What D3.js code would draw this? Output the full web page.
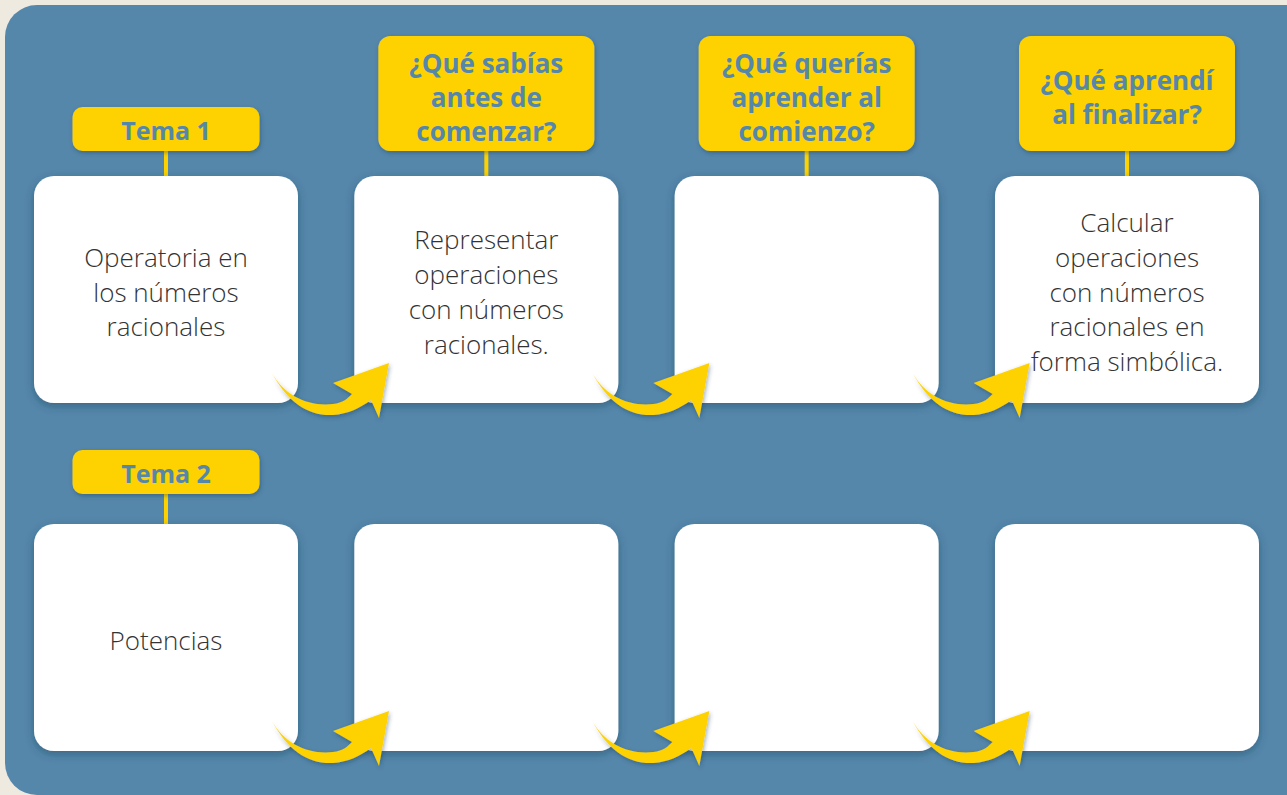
<!DOCTYPE html>
<html><head><meta charset="utf-8">
<script src="https://cdn.jsdelivr.net/npm/d3@7"></script>
<style>html,body{margin:0;padding:0;background:#EEEAE0;overflow:hidden}</style>
</head><body>
<script>
// ---- data ----
const topics = ["Tema 1", "Tema 2"];
const headers = [null, ["¿Qué sabías","antes de","comenzar?"], ["¿Qué querías","aprender al","comienzo?"], ["¿Qué aprendí","al finalizar?"]];
const row1Texts = [["Operatoria en","los números","racionales"], ["Representar","operaciones","con números","racionales."], [], ["Calcular","operaciones","con números","racionales en","forma simbólica."]];
const row2Texts = [["Potencias"], [], [], []];
const rowsText = [row1Texts, row2Texts];

const W = 1287, H = 795;
const blue = "#5587AA", yellow = "#FDD200", textDark = "#333333";

const svg = d3.select("body").append("svg").attr("width", W).attr("height", H);
const defs = svg.append("defs");
const f = defs.append("filter").attr("id","sh").attr("x","-20%").attr("y","-20%").attr("width","140%").attr("height","150%");
f.append("feDropShadow").attr("dx",0).attr("dy",3).attr("stdDeviation",4).attr("flood-color","#1d3a52").attr("flood-opacity",0.45);
const f2 = defs.append("filter").attr("id","sh2").attr("x","-20%").attr("y","-20%").attr("width","140%").attr("height","150%");
f2.append("feDropShadow").attr("dx",1).attr("dy",2).attr("stdDeviation",2).attr("flood-color","#1d3a52").attr("flood-opacity",0.4);

// panel
svg.append("rect").attr("x",5).attr("y",5).attr("width",1330).attr("height",790).attr("rx",32).attr("fill",blue);

const x = d3.scaleBand().domain(d3.range(4)).range([34,1259]).paddingInner(56.33/320.33);
const y = d3.scaleBand().domain(d3.range(2)).range([176,751]).paddingInner(121/348);
const cw = x.bandwidth(), ch = y.bandwidth();
const lh = 34.7;
const topicGap = [69, 74];

const font = "'Open Sans', sans-serif";

// header labels
headers.forEach((h,i)=>{
  if(!h) return;
  const cx = x(i)+cw/2, top = y(0)-140, hh = 115, wdt = 216;
  svg.append("rect").attr("x",cx-2).attr("y",top+hh-2).attr("width",4).attr("height",y(0)-top-hh+4).attr("fill",yellow);
  svg.append("rect").attr("x",cx-wdt/2).attr("y",top).attr("width",wdt).attr("height",hh).attr("rx",12).attr("fill",yellow).attr("filter","url(#sh2)");
  const cy = top+hh/2+3;
  h.forEach((t,k)=>{
    svg.append("text").attr("x",cx).attr("y",cy+(k-(h.length-1)/2)*34).attr("text-anchor","middle").attr("dominant-baseline","central")
      .attr("font-family",font).attr("font-weight",700).attr("font-size",26).attr("fill",blue).text(t);
  });
});

// topic labels
topics.forEach((t,r)=>{
  const cx = x(0)+cw/2, top = y(r)-topicGap[r], hh = 44, wdt = 187;
  svg.append("rect").attr("x",cx-2).attr("y",top+hh-2).attr("width",4).attr("height",y(r)-top-hh+4).attr("fill",yellow);
  svg.append("rect").attr("x",cx-wdt/2).attr("y",top).attr("width",wdt).attr("height",hh).attr("rx",10).attr("fill",yellow).attr("filter","url(#sh2)");
  svg.append("text").attr("x",cx).attr("y",top+hh/2+1).attr("text-anchor","middle").attr("dominant-baseline","central")
    .attr("font-family",font).attr("font-weight",700).attr("font-size",25).attr("fill",blue).text(t);
});

// cards
rowsText.forEach((row,r)=>{
  row.forEach((lines,i)=>{
    svg.append("rect").attr("x",x(i)).attr("y",y(r)).attr("width",cw).attr("height",ch).attr("rx",20).attr("fill","#fff").attr("filter","url(#sh)");
  });
});

// arrows
const arrowPath = "M -26,-30 C -14,-8 10,4 35,1 C 45,0 50,-5 54,-9 L 35,-20 L 91,-40 L 81,15 L 73,-3 C 62,5 50,11 35,12 C 10,13 -10,0 -26,-30 Z";
rowsText.forEach((row,r)=>{
  d3.range(3).forEach(i=>{
    svg.append("path").attr("d",arrowPath).attr("transform",`translate(${x(i)+cw},${y(r)+ch})`)
      .attr("fill",yellow).attr("filter","url(#sh2)");
  });
});

// card texts
rowsText.forEach((row,r)=>{
  row.forEach((lines,i)=>{
    const cx = x(i)+cw/2, cy = y(r)+ch/2+2;
    lines.forEach((t,k)=>{
      svg.append("text").attr("x",cx).attr("y",cy+(k-(lines.length-1)/2)*lh).attr("text-anchor","middle").attr("dominant-baseline","central")
        .attr("font-family",font).attr("font-weight",300).attr("font-size",26).attr("fill",textDark).text(t);
    });
  });
});
</script>
</body></html>
